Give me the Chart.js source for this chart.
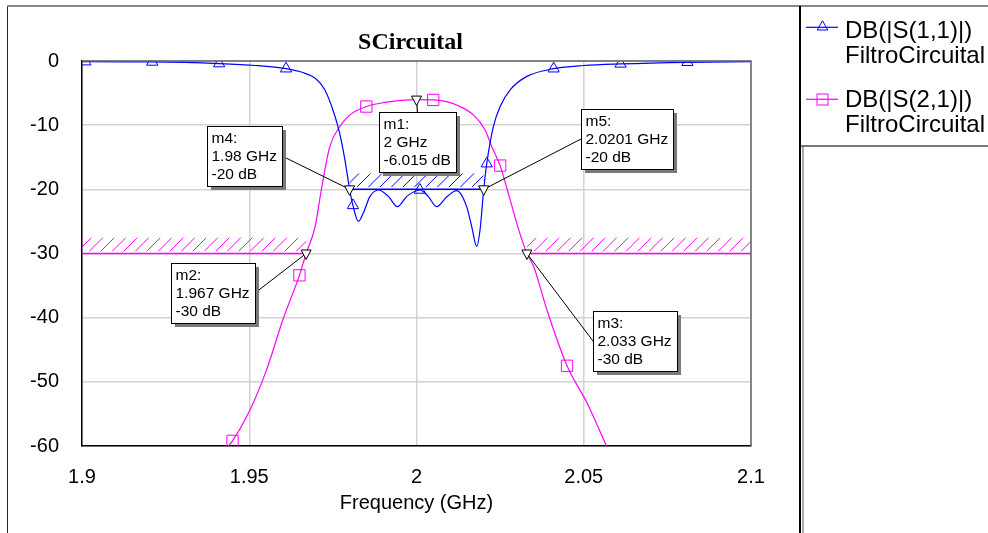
<!DOCTYPE html>
<html lang="en">
<head>
  <meta charset="UTF-8">
  <title>SCircuital</title>
  <script src="https://cdn.jsdelivr.net/npm/chart.js"></script>
  <style>
    body { margin: 0; background: #fff; font-family: 'Liberation Sans', Arial, sans-serif; }
    .page { position: relative; width: 988px; height: 533px; overflow: hidden; }
    #plot { position: absolute; left: 0; top: 0; }
    .frame-left { position: absolute; left: 7px; top: 6px; width: 1px; height: 527px; background: #222; }
    .frame-top { position: absolute; left: 7px; top: 5px; width: 981px; height: 2px; background: #888; }
    .divider { position: absolute; left: 799px; top: 6px; width: 2px; height: 527px; background: #000; }
    .legend-bottom { position: absolute; left: 801px; top: 145px; width: 187px; height: 2px; background: #777; }
    .panel-edge { position: absolute; left: 802px; top: 147px; width: 2px; height: 386px; background: #aaa; }
    .sample { position: absolute; left: 806px; }
    .entry { position: absolute; left: 845px; font-size: 24px; line-height: 25px; white-space: nowrap; color: #000; }
  </style>
</head>
<body>
  <div class="page">
    <canvas id="plot" width="988" height="533"></canvas>
    <div class="frame-left"></div>
    <div class="frame-top"></div>
    <div class="divider"></div>
    <div class="legend-bottom"></div>
    <div class="panel-edge"></div>

    <!-- legend -->
    <svg class="sample" style="top:17px" width="34" height="16">
      <line x1="0" y1="10.3" x2="32" y2="10.3" stroke="#0000ff" stroke-width="1.2"/>
      <polygon points="16.5,3.7 11.2,13 21.8,13" fill="none" stroke="#0000ff" stroke-width="1"/>
    </svg>
    <div class="entry" style="top:17px">DB(|S(1,1)|)<br>FiltroCircuital</div>
    <svg class="sample" style="top:90px" width="34" height="16">
      <line x1="0" y1="9.3" x2="32" y2="9.3" stroke="#ff00ff" stroke-width="1.2"/>
      <rect x="11" y="4" width="11" height="11" fill="none" stroke="#ff00ff" stroke-width="1"/>
    </svg>
    <div class="entry" style="top:86px">DB(|S(2,1)|)<br>FiltroCircuital</div>
  </div>

  <script>
    // S11 trace (GHz / dB), markers drawn on the listed frequencies
    const s11Freq = [1.9, 1.901, 1.921, 1.941, 1.952, 1.961, 1.966, 1.97, 1.9725, 1.975, 1.977, 1.9786,
      1.98, 1.981, 1.9826, 1.9841, 1.9861, 1.9886, 1.9916, 1.9943, 1.9971, 2.001, 2.0035, 2.006,
      2.009, 2.012, 2.015, 2.0165, 2.018, 2.019, 2.0201, 2.021, 2.023, 2.025, 2.028, 2.033,
      2.041, 2.05, 2.061, 2.081, 2.1];
    const s11Db = [-0.08, -0.1, -0.15, -0.4, -0.7, -1.2, -1.8, -2.8, -4.4, -7.6, -11.2, -15.4,
      -20, -22.5, -25.0, -23.7, -21.1, -20.1, -21.1, -22.7, -21.1, -20.1, -21.1, -22.7,
      -21.2, -20.2, -22.7, -25.8, -28.9, -26.3, -20, -16, -10.2, -7.1, -4.5, -2.4,
      -1.2, -0.7, -0.45, -0.2, -0.1];
    const s11MarkFreq = [1.901, 1.921, 1.941, 1.961, 1.981, 2.001, 2.021, 2.041, 2.061, 2.081];

    // S21 trace
    const s21Freq = [1.9437, 1.945, 1.9502, 1.9552, 1.9602, 1.965, 1.967, 1.9697, 1.9717, 1.9741,
      1.9771, 1.9801, 1.985, 1.99, 2.0, 2.005, 2.0095, 2.012, 2.017, 2.0205, 2.0225, 2.025,
      2.028, 2.0305, 2.033, 2.035, 2.039, 2.045, 2.051, 2.0568];
    const s21Db = [-60, -59.2, -54.4, -48.1, -40.1, -33.4, -30, -25.8, -19.6, -13.3,
      -10.2, -8.4, -7.1, -6.5, -6.015, -6.07, -6.4, -6.85, -8.4, -10.75, -13.35, -16.3,
      -21.65, -26.2, -30, -32.0, -38.8, -47.5, -53.3, -60];
    const s21MarkFreq = [1.945, 1.965, 1.985, 2.005, 2.025, 2.045];

    // spec limits
    const s11SpecFreq = [1.98, 2.02];
    const s11SpecDb = -20;
    const s21SpecLowFreq = [1.9, 1.967];
    const s21SpecHighFreq = [2.033, 2.1];
    const s21SpecDb = -30;

    // marker readouts
    const markerNames = ['m1', 'm2', 'm3', 'm4', 'm5'];
    const markerFreq = [2, 1.967, 2.033, 1.98, 2.0201];
    const markerDb = [-6.015, -30, -30, -20, -20];

    const xTicks = [1.9, 1.95, 2, 2.05, 2.1];
    const yTicks = [0, -10, -20, -30, -40, -50, -60];

    const BLUE = '#0000ff';
    const MAGENTA = '#ff00ff';
    const FONT = "'Liberation Sans', Arial, sans-serif";

    const toPts = (fs, vs) => fs.map((f, i) => ({ x: f, y: vs[i] }));
    const flat = (fs, v) => fs.map(f => ({ x: f, y: v }));

    // where each readout box sits, relative to its marker point (px)
    const boxOffset = { m1: [-37.5, 12.7], m2: [-135, 9], m3: [66.4, 57.4], m4: [-142.3, -63.7], m5: [97.3, -80.4] };

    function hatch(ctx, x0, x1, y, color) {
      const top = y - 16, bottom = y - 2;
      ctx.save();
      ctx.beginPath();
      ctx.rect(x0, top, x1 - x0, bottom - top);
      ctx.clip();
      ctx.strokeStyle = color;
      ctx.lineWidth = 1;
      ctx.beginPath();
      for (let x = x0 - 16; x < x1 + 16; x += 11.5) {
        ctx.moveTo(x, bottom);
        ctx.lineTo(x + (bottom - top), top);
      }
      ctx.stroke();
      ctx.restore();
    }

    const extras = {
      id: 'extras',
      beforeDatasetsDraw(chart) {
        const { ctx, scales: { x, y } } = chart;
        hatch(ctx, x.getPixelForValue(s11SpecFreq[0]), x.getPixelForValue(s11SpecFreq[1]), y.getPixelForValue(s11SpecDb), BLUE);
        hatch(ctx, x.getPixelForValue(s21SpecLowFreq[0]), x.getPixelForValue(s21SpecLowFreq[1]), y.getPixelForValue(s21SpecDb), MAGENTA);
        hatch(ctx, x.getPixelForValue(s21SpecHighFreq[0]), x.getPixelForValue(s21SpecHighFreq[1]), y.getPixelForValue(s21SpecDb), MAGENTA);
      },
      afterDatasetsDraw(chart) {
        const { ctx, chartArea: a, scales: { x, y } } = chart;
        ctx.save();
        // top and right plot frame
        ctx.strokeStyle = '#666';
        ctx.lineWidth = 1.5;
        ctx.beginPath();
        ctx.moveTo(a.left, a.top);
        ctx.lineTo(a.right, a.top);
        ctx.lineTo(a.right, a.bottom);
        ctx.stroke();

        ctx.font = '15.5px ' + FONT;
        ctx.textBaseline = 'middle';
        markerNames.forEach((name, i) => {
          const px = x.getPixelForValue(markerFreq[i]);
          const py = y.getPixelForValue(markerDb[i]);
          const lines = [name + ':', markerFreq[i] + ' GHz', markerDb[i] + ' dB'];
          const w = Math.ceil(Math.max(...lines.map(t => ctx.measureText(t).width))) + 9;
          const h = 60;
          const bx = Math.round(px + boxOffset[name][0]);
          const by = Math.round(py + boxOffset[name][1]);

          // leader line
          let lx, ly;
          if (px < bx) { lx = bx; ly = by + h / 2; }
          else if (px > bx + w) { lx = bx + w; ly = by + h / 2; }
          else { lx = bx + w / 2; ly = py < by ? by : by + h; }
          ctx.strokeStyle = '#000';
          ctx.lineWidth = 1;
          ctx.beginPath();
          ctx.moveTo(px, py);
          ctx.lineTo(lx, ly);
          ctx.stroke();

          // marker triangle
          ctx.fillStyle = '#fff';
          ctx.beginPath();
          ctx.moveTo(px - 5, py - 3.5);
          ctx.lineTo(px + 5, py - 3.5);
          ctx.lineTo(px, py + 6);
          ctx.closePath();
          ctx.fill();
          ctx.stroke();

          // readout box with shadow
          ctx.fillStyle = '#7a7a7a';
          ctx.fillRect(bx + 4, by + 4, w, h);
          ctx.fillStyle = '#fff';
          ctx.fillRect(bx, by, w, h);
          ctx.strokeRect(bx + 0.5, by + 0.5, w, h);
          ctx.fillStyle = '#000';
          lines.forEach((t, j) => ctx.fillText(t, bx + 4.5, by + 13 + j * 18));
        });

        // chart title
        ctx.font = "bold 24px 'Liberation Serif', 'Times New Roman', serif";
        ctx.textAlign = 'center';
        ctx.textBaseline = 'alphabetic';
        ctx.fillText('SCircuital', (a.left + a.right) / 2 - 6, 49);
        ctx.restore();
      }
    };

    const lineSet = (label, pts, color, marks, style, radius) => ({
      label,
      data: pts,
      borderColor: color,
      borderWidth: 1.2,
      cubicInterpolationMode: 'monotone',
      pointStyle: style,
      pointRadius: pts.map(p => marks.includes(p.x) ? radius : 0),
      pointBorderColor: color,
      pointBackgroundColor: 'rgba(0,0,0,0)',
      pointBorderWidth: 1
    });

    const specSet = (pts, color) => ({
      data: pts,
      borderColor: color,
      borderWidth: 1.5,
      pointRadius: 0
    });

    new Chart(document.getElementById('plot'), {
      type: 'line',
      data: {
        datasets: [
          lineSet('DB(|S(1,1)|) FiltroCircuital', toPts(s11Freq, s11Db), BLUE, s11MarkFreq, 'triangle', 6.5),
          lineSet('DB(|S(2,1)|) FiltroCircuital', toPts(s21Freq, s21Db), MAGENTA, s21MarkFreq, 'rect', 8),
          specSet(flat(s11SpecFreq, s11SpecDb), BLUE),
          specSet(flat(s21SpecLowFreq, s21SpecDb), MAGENTA),
          specSet(flat(s21SpecHighFreq, s21SpecDb), MAGENTA)
        ]
      },
      options: {
        responsive: false,
        animation: false,
        events: [],
        layout: { padding: { top: 61, right: 237, left: 0, bottom: 0 } },
        plugins: { legend: { display: false }, tooltip: { enabled: false } },
        scales: {
          x: {
            type: 'linear',
            min: 1.9,
            max: 2.1,
            afterBuildTicks: s => { s.ticks = xTicks.map(v => ({ value: v })); },
            afterFit: s => { s.height = 87; },
            ticks: { padding: 19, color: '#000', font: { family: FONT, size: 20 }, callback: v => String(v), maxRotation: 0 },
            grid: { color: '#d2d2d2', lineWidth: 1.5, drawTicks: false },
            border: { color: '#000', width: 1.5 },
            title: { display: true, text: 'Frequency (GHz)', color: '#000', font: { family: FONT, size: 20 }, padding: 18 }
          },
          y: {
            min: -60,
            max: 0,
            afterBuildTicks: s => { s.ticks = yTicks.map(v => ({ value: v })); },
            afterFit: s => { s.width = 82; },
            ticks: { padding: 23, color: '#000', font: { family: FONT, size: 20 } },
            grid: { color: '#d2d2d2', lineWidth: 1.5, drawTicks: false },
            border: { color: '#000', width: 1.5 }
          }
        }
      },
      plugins: [extras]
    });
  </script>
</body>
</html>
